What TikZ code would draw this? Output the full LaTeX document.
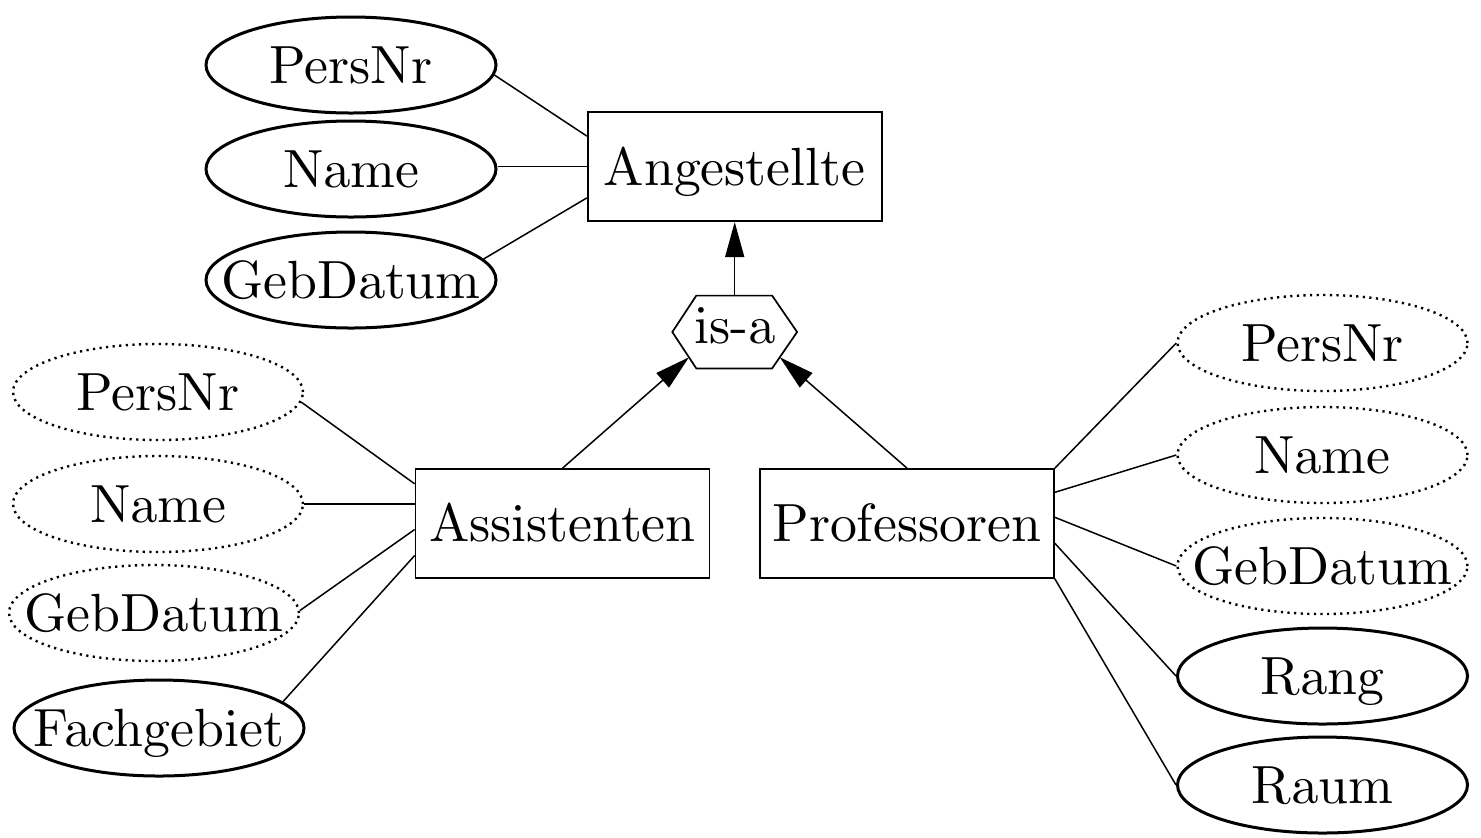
\documentclass[tikz,border=0pt]{standalone}
\usetikzlibrary{arrows.meta,calc,shapes.geometric}
\font\erfont=cmr10 at 26.9pt
\newcommand\ertext[1]{\makebox[0pt]{#1}}
\tikzset{
  attr/.style={ellipse, draw, line width=1.5pt, minimum width=145pt, minimum height=48pt,
    inner sep=0pt, font=\erfont, text height=18.3pt, text depth=0pt},
  wattr/.style={attr, line width=1.2pt, dash pattern=on 1.1pt off 2.2pt},
  entity/.style={rectangle, draw, line width=0.85pt, minimum width=147pt, minimum height=54.5pt,
    inner sep=0pt, font=\erfont, text height=18.3pt, text depth=0pt},
  isanode/.style={minimum width=62pt, minimum height=36pt, inner sep=0pt, font=\erfont,
    text height=11.6pt, text depth=0pt},
  hexline/.style={line width=0.85pt, line join=miter},
  conn/.style={line width=0.75pt},
  isaarrow/.style={conn, -{Triangle[length=17.5pt,width=9.5pt]}},
}
\begin{document}
\begin{tikzpicture}[x=0.5pt,y=-0.5pt]
\useasboundingbox (0,0) rectangle (1481,837);

% entities
\node[entity] (ang) at (734.7,166.7) {Angestellte};
\node[entity] (asst) at (562.5,523.5) {Assistenten};
\node[entity] (prof) at (907,523.5) {Professoren};

% is-a
\node[isanode] (isa) at (734.7,332) {is-a};
\coordinate (isaTL) at ($(isa.north west)+(24,0)$);
\coordinate (isaTR) at ($(isa.north east)+(-25,0)$);
\coordinate (isaBL) at ($(isa.south west)+(24,0)$);
\coordinate (isaBR) at ($(isa.south east)+(-25,0)$);
\draw[hexline] (isa.west) -- (isaTL) -- (isaTR) -- (isa.east) -- (isaBR) -- (isaBL) -- cycle;
\coordinate (isaL) at ($(isa.west)!0.694!(isaBL)$);
\coordinate (isaR) at ($(isa.east)!0.694!(isaBR)$);

% attributes of Angestellte
\node[attr] (tlp) at (351,65) {\ertext{PersNr}};
\node[attr] (tln) at (351,169) {\ertext{Name}};
\node[attr] (tlg) at (351,280) {\ertext{GebDatum}};

% attributes of Assistenten
\node[wattr] (ldp) at (158,392) {\ertext{PersNr}};
\node[wattr] (ldn) at (158,504) {\ertext{Name}};
\node[wattr] (ldg) at (154,613) {\ertext{GebDatum}};
\node[attr] (lf) at (159,728) {\ertext{Fachgebiet}};

% attributes of Professoren
\node[wattr] (rdp) at (1322.5,343) {\ertext{PersNr}};
\node[wattr] (rdn) at (1322.5,455) {\ertext{Name}};
\node[wattr] (rdg) at (1322.5,566) {\ertext{GebDatum}};
\node[attr] (rr) at (1322.5,676) {\ertext{Rang}};
\node[attr] (rm) at (1322.5,785) {\ertext{Raum}};

% is-a arrows
\draw[isaarrow] (isa.north) -- (ang.south);
\draw[isaarrow] (asst.north) -- (isaL);
\draw[isaarrow] (prof.north) -- (isaR);

% connectors Angestellte
\draw[conn] (tlp.-4) -- ([yshift=15.3pt]ang.west);
\draw[conn] (tln.east |- ang.west) -- (ang.west);
\draw[conn] (tlg.9) -- ([yshift=-15.6pt]ang.west);

% connectors Assistenten
\draw[conn] (ldp.-4.8) -- ([yshift=19.85pt]asst.west);
\draw[conn] (ldn.east) -- (asst.west |- ldn.east);
\draw[conn] (ldg.1.6) -- ([yshift=-3pt]asst.west);
\draw[conn] (lf.12.5) -- ([yshift=-16pt]asst.west);

% connectors Professoren
\draw[conn] (prof.north east) -- (rdp.west);
\draw[conn] ([yshift=15.6pt]prof.east) -- (rdn.west);
\draw[conn] ([yshift=3.1pt]prof.east) -- (rdg.west);
\draw[conn] ([yshift=-9.9pt]prof.east) -- (rr.west);
\draw[conn] (prof.south east) -- (rm.west);
\end{tikzpicture}
\end{document}
